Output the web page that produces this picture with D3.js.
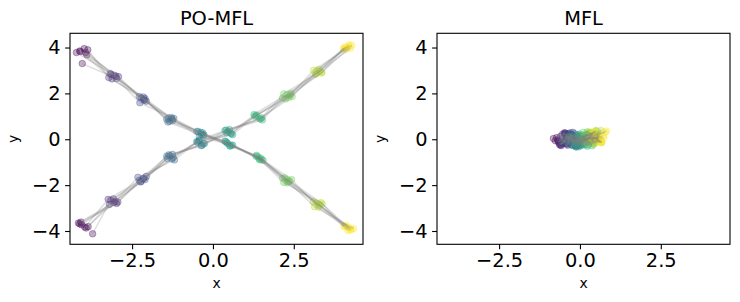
<!DOCTYPE html>
<html><head><meta charset="utf-8">
<script src="https://cdn.jsdelivr.net/npm/d3@7"></script>
<style>body{margin:0;background:#fff}svg{display:block}text{font-family:"DejaVu Sans",sans-serif;fill:#000}</style>
</head><body><svg id="c" width="740" height="302"></svg>
<script>
// ---- data ----
const titles = ["PO-MFL", "MFL"];
const steps = 10;
const xTicks = [-2.5, 0.0, 2.5];
const yTicks = [-4, -2, 0, 2, 4];
// PO-MFL cluster centres per time step: branch A (top-left -> bottom-right), branch B (bottom-left -> top-right)
const aCX = [-4.02, -3.10, -2.18, -1.31, -0.40, 0.49, 1.41, 2.27, 3.22, 4.15];
const aCY = [3.80, 2.75, 1.74, 0.85, 0.24, -0.20, -0.82, -1.80, -2.84, -3.86];
const bCX = [-4.02, -3.10, -2.18, -1.31, -0.40, 0.49, 1.39, 2.31, 3.25, 4.15];
const bCY = [-3.77, -2.72, -1.74, -0.78, -0.16, 0.32, 0.96, 1.88, 2.93, 4.00];
// per-particle scatter around the centres (hundredths)
const poDX = [
[-10,-5,3,5,2,-4,6,3,-2,5],[8,10,6,-3,5,8,-2,10,8,12],[-2,12,-8,10,-6,3,10,-5,12,-3],[15,-12,8,-8,10,-10,-8,6,-8,20],
[-20,5,-10,2,-2,12,4,-12,5,-8],[4,-8,12,-12,8,-6,14,2,-12,10],[12,18,-4,6,-10,4,-6,16,4,-10],[-8,-2,4,-6,12,-12,2,-8,16,2],
[30,-6,4,8,-4,6,-10,4,6,-6],[-10,12,-10,-6,10,-8,8,-12,-8,10],[6,-14,12,4,-10,12,-4,8,-14,-4],[-14,4,-4,-12,6,-2,12,-6,10,14],
[10,8,-14,12,-2,-12,6,14,2,-10],[-4,-10,8,-2,14,8,-12,-2,-6,6],[16,2,-6,-10,-8,2,14,-16,12,-12],[-6,16,2,6,4,-6,-6,10,-4,4]];
const poDY = [
[5,8,10,3,6,2,0,4,6,2],[-2,0,-4,-6,-3,-5,5,-2,-4,-6],[-50,-10,-15,6,10,-8,-6,12,8,10],[10,-6,4,-10,-8,10,8,-6,-10,-4],
[-2,4,12,10,-12,-6,-8,10,2,8],[15,12,-8,2,4,6,-10,-10,12,-10],[-12,-2,6,-4,10,-10,12,4,-12,6],[2,-12,-2,8,-4,12,-4,-8,2,-12],
[-35,6,4,-2,8,-6,4,-6,4,2],[8,-8,-6,10,-4,8,-8,10,-10,-4],[-6,10,12,-8,6,-12,10,4,8,-8],[12,-4,-10,4,-10,2,-2,-12,-4,10],
[-10,2,8,-12,12,6,-6,-2,12,-2],[4,-12,-2,6,-2,-8,12,8,-8,12],[-4,12,-12,-6,2,10,-12,-8,-2,-6],[16,-2,2,12,-12,-4,6,12,6,4]];
// MFL cluster centres per time step
const mCX = [-0.52, -0.42, -0.32, -0.20, -0.08, 0.05, 0.18, 0.32, 0.45, 0.58];
const mCY = [0.00, 0.02, 0.00, -0.04, -0.06, -0.05, 0.00, 0.10, 0.10, 0.08];
const mDX = [
[-20,8,-15,12,-5,18,-10,6,-18,14],[10,-18,20,-6,15,-12,8,-20,10,-4],[-30,-4,6,-20,22,2,-16,12,-8,20],[16,22,-10,8,-14,-20,14,-2,22,-16],
[-6,-12,12,20,-22,10,-4,18,-14,6],[22,4,-22,-12,6,-6,20,-14,4,-22],[-14,16,2,-2,10,14,-22,4,16,-10],[4,-22,16,-16,-4,22,6,-10,-4,24],
[-24,10,-6,4,18,-16,-8,22,-22,0],[12,-8,24,14,-10,4,12,-18,8,-12],[-10,20,-20,-24,2,-10,24,0,-12,16],[18,-2,8,22,-18,16,-14,14,20,-6],
[-2,-16,-12,-8,12,-22,2,-6,-2,10],[8,14,18,2,-2,8,-18,16,12,-18],[-16,-24,-2,16,24,-4,16,-22,-16,8],[26,2,10,-4,-8,20,-2,8,2,-2]];
const mDY = [
[7,-17,22,-6,14,-25,8,17,-11,6],[-20,11,-8,25,-17,6,-22,3,20,-14],[3,25,-25,-11,8,20,14,-20,-3,22],[22,-6,14,-28,-22,-8,25,8,-25,-6],
[-28,20,6,17,28,-17,-6,28,11,-22],[14,-28,-17,6,-6,28,-28,-11,25,14],[-11,6,28,-20,20,-3,17,-28,-17,-28],[28,-22,-3,11,-28,14,-14,22,6,28],
[-6,14,-22,28,3,-22,6,-6,-28,-11],[17,-11,11,-14,-11,11,28,-17,14,8],[-25,28,-14,3,25,-28,-20,14,-8,-3],[11,-3,20,-25,-3,22,-8,-25,28,20],
[-17,-25,3,20,17,-11,22,6,-20,-20],[25,17,-28,-3,-20,3,-3,-3,3,25],[-3,-14,25,-22,11,-20,11,20,22,-17],[0,3,-6,8,-8,8,-25,-8,-6,3]];

// ---- build trajectories ----
function buildPO(){
  return poDX.map((row,p)=>{
    const cx = p<8 ? aCX : bCX, cy = p<8 ? aCY : bCY;
    return row.map((d,t)=>({t, x: cx[t]+d/100, y: cy[t]+poDY[p][t]/100}));
  });
}
function buildM(){
  return mDX.map((row,p)=>row.map((d,t)=>({t, x: mCX[t]+d/100, y: mCY[t]+mDY[p][t]/100})));
}
const panels = [buildPO(), buildM()];

const svg = d3.select("#c");
const boxes = [[70,363],[437,730]];
const topY = 33.3, botY = 244.3;
const color = t => d3.interpolateViridis(t/(steps-1));

panels.forEach((traj, i) => {
  const [L,R] = boxes[i];
  const x = d3.scaleLinear().domain([-4.42, 4.64]).range([L,R]);
  const y = d3.scaleLinear().domain([-4.58, 4.62]).range([botY, topY]);
  const g = svg.append("g");
  const clip = "clip"+i;
  g.append("clipPath").attr("id",clip).append("rect").attr("x",L).attr("y",topY).attr("width",R-L).attr("height",botY-topY);
  const plot = g.append("g").attr("clip-path",`url(#${clip})`);
  // points, step by step
  for(let t=0;t<steps;t++){
    plot.append("g").selectAll("circle").data(traj.map(p=>p[t])).join("circle")
      .attr("cx",d=>x(d.x)).attr("cy",d=>y(d.y)).attr("r",3.3)
      .attr("fill",color(t)).attr("fill-opacity",0.32)
      .attr("stroke",color(t)).attr("stroke-opacity",0.32).attr("stroke-width",1);
  }
  // trajectories
  const line = d3.line().x(d=>x(d.x)).y(d=>y(d.y));
  plot.append("g").selectAll("path").data(traj).join("path")
    .attr("d",line).attr("fill","none").attr("stroke","#808080")
    .attr("stroke-opacity",0.26).attr("stroke-width",1.5);
  // frame
  g.append("rect").attr("x",L).attr("y",topY).attr("width",R-L).attr("height",botY-topY)
    .attr("fill","none").attr("stroke","#000").attr("stroke-width",1.1);
  // axes
  const xa = g.append("g").attr("transform",`translate(0,${botY})`)
    .call(d3.axisBottom(x).tickValues(xTicks).tickSize(4.9).tickPadding(4.5).tickFormat(v=>(v<0?"\u2212":"")+Math.abs(v).toFixed(1)));
  const ya = g.append("g").attr("transform",`translate(${L},0)`)
    .call(d3.axisLeft(y).tickValues(yTicks).tickSize(4.9).tickPadding(4.5).tickFormat(v=>(v<0?"\u2212":"")+Math.abs(v)));
  [xa,ya].forEach(a=>{
    a.select(".domain").remove();
    a.selectAll("line").attr("stroke","#000").attr("stroke-width",1.1);
    a.selectAll("text").attr("font-family","DejaVu Sans").attr("font-size",19.4).attr("fill","#000");
  });
  // labels
  g.append("text").attr("x",(L+R)/2).attr("y",25).attr("text-anchor","middle").attr("font-size",19.4).text(titles[i]);
  g.append("text").attr("x",(L+R)/2).attr("y",288.3).attr("text-anchor","middle").attr("font-size",13.9).text("x");
  g.append("text").attr("transform",`translate(${L-52},${(topY+botY)/2}) rotate(-90)`).attr("text-anchor","middle").attr("font-size",13.9).text("y");
});
</script></body></html>
